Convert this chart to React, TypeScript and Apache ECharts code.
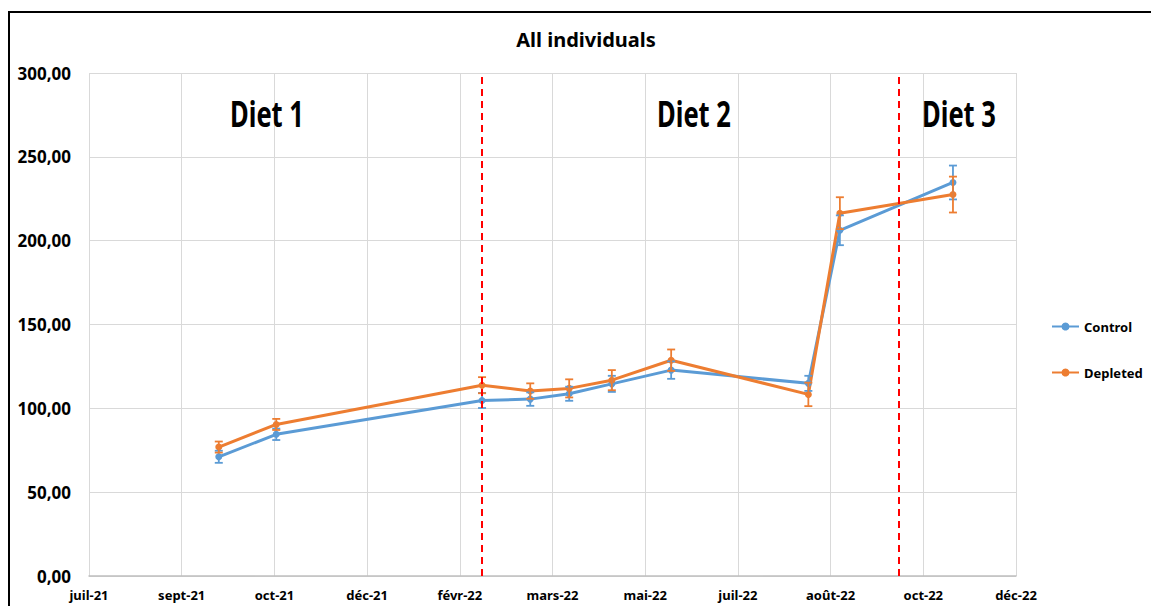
import React, { useEffect, useRef } from "react";
import * as echarts from "echarts";

const baseDate = "2021-07-20";
const tickLabels = ["juil-21", "sept-21", "oct-21", "déc-21", "févr-22", "mars-22", "mai-22", "juil-22", "août-22", "oct-22", "déc-22"];
const sampleDates = ["2021-09-28", "2021-10-29", "2022-02-17", "2022-03-15", "2022-04-05", "2022-04-28", "2022-05-30", "2022-08-12", "2022-08-29", "2022-10-29"];
const controlValues = [71.1, 84.5, 104.7, 105.5, 108.7, 114.6, 122.8, 114.9, 206.2, 234.7];
const controlErrors = [3.6, 3.4, 4.5, 4.0, 4.2, 4.8, 5.2, 4.5, 8.9, 10.1];
const depletedValues = [76.9, 90.4, 113.8, 110.3, 111.9, 116.8, 128.7, 108.3, 216.4, 227.5];
const depletedErrors = [3.3, 3.3, 4.8, 4.6, 5.4, 6.0, 6.4, 7.0, 9.5, 10.7];
const dietChangeDates = ["2022-02-17", "2022-09-30"];
const dietLabels = ["Diet 1", "Diet 2", "Diet 3"];
const seriesNames = ["Control", "Depleted"];

const dayOffset = (d: string) => Math.round((Date.parse(d) - Date.parse(baseDate)) / 86400000);

const FONT = '"Noto Sans", "Open Sans", sans-serif';
const BLUE = "#5B9BD5";
const ORANGE = "#ED7D31";

function errorSeries(name: string, values: number[], errors: number[], color: string) {
  return {
    type: "custom",
    name: name + " err",
    z: 3,
    silent: true,
    encode: { x: 0, y: [1, 2] },
    data: values.map((v, i) => [dayOffset(sampleDates[i]), v - errors[i], v + errors[i]]),
    renderItem: (_params: any, api: any) => {
      const x = api.value(0);
      const top = api.coord([x, api.value(2)]);
      const bot = api.coord([x, api.value(1)]);
      const h = 4;
      const style = { stroke: color, lineWidth: 1.8 };
      return {
        type: "group",
        children: [
          { type: "line", shape: { x1: top[0], y1: top[1], x2: bot[0], y2: bot[1] }, style },
          { type: "line", shape: { x1: top[0] - h, y1: top[1], x2: top[0] + h, y2: top[1] }, style },
          { type: "line", shape: { x1: bot[0] - h, y1: bot[1], x2: bot[0] + h, y2: bot[1] }, style },
        ],
      };
    },
  };
}

export default function App() {
  const ref = useRef<HTMLDivElement>(null);
  useEffect(() => {
    document.body.style.margin = "0";
    if (!ref.current) return;
    const chart = echarts.init(ref.current, undefined, { renderer: "svg" });
    const lineSeries = (name: string, values: number[], color: string) => ({
      type: "line",
      name,
      z: 2,
      data: values.map((v, i) => [dayOffset(sampleDates[i]), v]),
      symbol: "circle",
      symbolSize: 7,
      lineStyle: { color, width: 3 },
      itemStyle: { color },
    });
    chart.setOption({
      animation: false,
      backgroundColor: "#fff",
      title: {
        text: "All individuals",
        left: 581,
        top: 24,
        textAlign: "center",
        textStyle: { fontFamily: FONT, fontWeight: "bold", fontSize: 20, color: "#000" },
      },
      legend: {
        data: seriesNames,
        orient: "vertical",
        left: 1046,
        top: 315,
        itemGap: 33,
        itemWidth: 27,
        itemHeight: 10,
        textStyle: { fontFamily: FONT, fontWeight: "bold", fontSize: 13, color: "#000" },
      },
      grid: { left: 89, top: 73, right: 135, bottom: 30, containLabel: false },
      xAxis: {
        type: "value",
        min: 0,
        max: 500,
        interval: 50,
        axisLine: { show: true, lineStyle: { color: "#bfbfbf", width: 1.5 } },
        axisTick: { show: false },
        splitLine: { show: true, lineStyle: { color: "#d9d9d9", width: 1 } },
        axisLabel: {
          formatter: (v: number) => tickLabels[Math.round(v / 50)] ?? "",
          fontFamily: FONT,
          fontWeight: "bold",
          fontSize: 13,
          color: "#000",
          margin: 12,
        },
      },
      yAxis: {
        type: "value",
        min: 0,
        max: 300,
        interval: 50,
        axisLine: { show: false },
        axisTick: { show: false },
        splitLine: { show: true, lineStyle: { color: "#d9d9d9", width: 1 } },
        axisLabel: {
          formatter: (v: number) => v.toFixed(2).replace(".", ","),
          fontFamily: FONT,
          fontWeight: "bold",
          fontSize: 17,
          color: "#000",
          margin: 18,
        },
      },
      graphic: [
        {
          type: "rect",
          shape: { x: 9, y: 12, width: 1300, height: 800 },
          style: { fill: "none", stroke: "#000", lineWidth: 2 },
          silent: true,
          z: 100,
        },
        ...dietLabels.map((t, i) => ({
          type: "text",
          x: [267, 694, 959][i],
          y: 113,
          scaleX: 0.73,
          style: {
            text: t,
            fontFamily: FONT,
            fontWeight: "bold",
            fontSize: 35,
            fill: "#000",
            textAlign: "center",
            textVerticalAlign: "middle",
          },
          z: 50,
        })),
      ],
      series: [
        {
          ...lineSeries(seriesNames[0], controlValues, BLUE),
          markLine: {
            silent: true,
            symbol: ["none", "none"],
            label: { show: false },
            lineStyle: { color: "#ff0000", type: [7, 5], width: 2 },
            data: dietChangeDates.map((d) => ({ xAxis: dayOffset(d) })),
            z: 5,
          },
        },
        lineSeries(seriesNames[1], depletedValues, ORANGE),
        errorSeries(seriesNames[0], controlValues, controlErrors, BLUE),
        errorSeries(seriesNames[1], depletedValues, depletedErrors, ORANGE),
      ],
    });
    return () => chart.dispose();
  }, []);
  return <div ref={ref} style={{ width: 1151, height: 606 }} />;
}
